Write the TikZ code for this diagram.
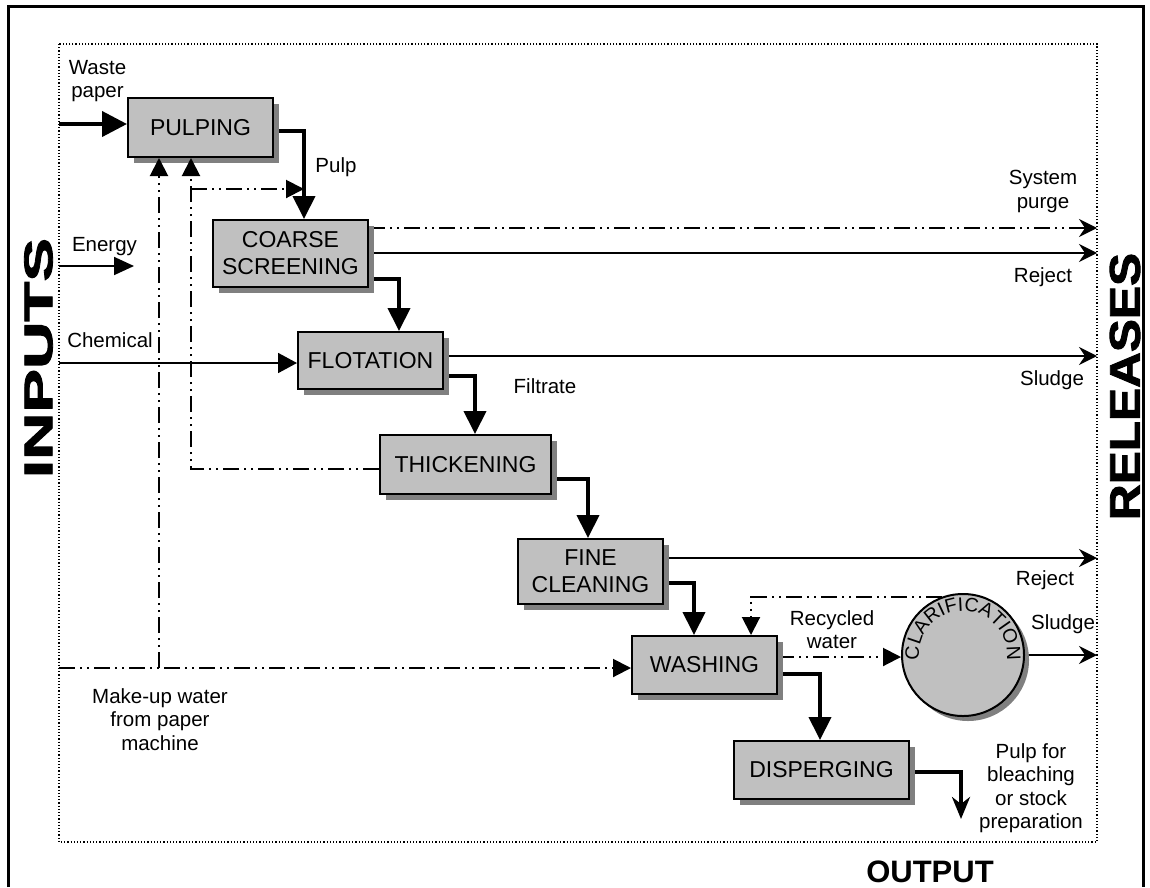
\documentclass[tikz,border=0pt]{standalone}
\usepackage{fontspec}
\usepackage{graphicx}
\setmainfont{Liberation Sans}
\newfontfamily\heavyfont[FakeBold=2]{Liberation Sans Bold}
\usetikzlibrary{arrows.meta,shadows,decorations.text,calc,backgrounds}
\definecolor{boxgray}{HTML}{C0C0C0}
\definecolor{shadowgray}{HTML}{808080}
\begin{document}
\begin{tikzpicture}[x=1pt,y=-1pt,
  procbox/.style={draw=black, line width=2pt, fill=boxgray, inner sep=0pt, align=center,
    font=\fontsize{23}{27}\selectfont,
    drop shadow={shadow xshift=6pt, shadow yshift=-6pt, opacity=1, fill=shadowgray}},
  lbl/.style={inner sep=0pt, anchor=north, align=center, font=\fontsize{20.5}{23.5}\selectfont},
  flow/.style={line width=4pt, -{Triangle[length=23pt,width=22pt]}},
  thinline/.style={line width=1.8pt},
  dd/.style={line width=2pt, dash pattern=on 16pt off 5pt on 2pt off 5pt on 2pt off 5pt},
  tri/.style={-{Triangle[length=18pt,width=18pt]}},
  rel/.style={line width=1.8pt, -{Stealth[length=18pt,width=18pt,inset=6pt]}},
]
\useasboundingbox (0,0) rectangle (1150,887);

% frames
\draw[line width=3pt] (8,887) -- (8,6) -- (1143,6) -- (1143,887);
\draw[dotted, line width=1.2pt] (59,44) rectangle (1097,842);

% big side titles
\node[rotate=90, inner sep=0pt] (inputs) at (38.5,358) {\resizebox{240pt}{28pt}{\heavyfont INPUTS}};
\node[rotate=90, inner sep=0pt] (releases) at (1125,386.5) {\resizebox{267pt}{30pt}{\heavyfont RELEASES}};
\node[inner sep=0pt, anchor=base, font=\fontsize{31}{31}\selectfont\bfseries] (output) at (930,882) {OUTPUT};

% process boxes
\node[procbox, minimum width=145pt, minimum height=59pt] (pulping) at (200.5,127.5) {PULPING};
\node[procbox, minimum width=155pt, minimum height=67pt] (coarse) at (290.5,253.5) {COARSE\\SCREENING};
\node[procbox, minimum width=145pt, minimum height=57pt] (flot) at (370.5,360.5) {FLOTATION};
\node[procbox, minimum width=171pt, minimum height=59pt] (thick) at (465.5,464.5) {THICKENING};
\node[procbox, minimum width=145pt, minimum height=65pt] (fine) at (590.5,571.5) {FINE\\CLEANING};
\node[procbox, minimum width=145pt, minimum height=58pt] (wash) at (704.5,665) {WASHING};
\node[procbox, minimum width=175pt, minimum height=58pt] (disp) at (821.5,770) {DISPERGING};
\node[circle, draw=black, line width=2pt, fill=boxgray, minimum size=122pt, inner sep=0pt,
  drop shadow={shadow xshift=5pt, shadow yshift=-5pt, opacity=1, fill=shadowgray}] (clar) at (963,655) {};
\path[decorate, decoration={text along path, text align=center,
  text={|\fontsize{19.5}{19.5}\selectfont|CLARIFICATION}}]
  ([shift={(192:44pt)}]clar.center) arc[start angle=192, end angle=-12, radius=44pt];

% coordinates
\coordinate (wpin) at (59,124);
\coordinate (k1) at (304,131);
\coordinate (k2) at (399,279);
\coordinate (k3) at (475,376);
\coordinate (k4) at (588,479);
\coordinate (k5) at (694,583);
\coordinate (k6) at (820,674);
\coordinate (k7) at (961,772);
\coordinate (outend) at (961,819);
\coordinate (r1) at (1097,228);
\coordinate (r2) at (1097,253);
\coordinate (r3) at (1097,356);
\coordinate (r4) at (1097,558);
\coordinate (r5) at (1097,656);
\coordinate (en) at (59,266);
\coordinate (enend) at (134,266);
\coordinate (ch) at (59,363);
\coordinate (mu) at (59,668);
\coordinate (mu2) at (159,668);
\coordinate (t1) at (191,469);
\coordinate (t2) at (191,189);
\coordinate (t3) at (304,189);
\coordinate (w1) at (777,657);
\coordinate (c1) at (751,597);

\begin{pgfonlayer}{background}
\draw[flow] (k1 -| pulping.east) -- (k1) -- (k1 |- coarse.north);
\draw[flow] (k2 -| coarse.east) -- (k2) -- (k2 |- flot.north);
\draw[flow] (k3 -| flot.east) -- (k3) -- (k3 |- thick.north);
\draw[flow] (k4 -| thick.east) -- (k4) -- (k4 |- fine.north);
\draw[flow] (k5 -| fine.east) -- (k5) -- (k5 |- wash.north);
\draw[flow] (k6 -| wash.east) -- (k6) -- (k6 |- disp.north);
\draw[line width=4pt, -{Stealth[length=22pt,width=18pt,inset=7pt]}] (k7 -| disp.east) -- (k7) -- (outend);
\draw[rel, dash pattern=on 16pt off 5pt on 2pt off 5pt on 2pt off 5pt] (r1 -| coarse.east) -- (r1);
\draw[rel] (r2 -| coarse.east) -- (r2);
\draw[rel] (r3 -| flot.east) -- (r3);
\draw[rel] (r4 -| fine.east) -- (r4);
\draw[rel] (clar.east) -- (clar.east -| r5);
\draw[dd, tri] (w1 -| wash.east) -- (w1 -| clar.west);
\end{pgfonlayer}

% inputs
\draw[line width=4pt, -{Triangle[length=25pt,width=25pt]}] (wpin) -- (wpin -| pulping.west);
\draw[thinline, -{Triangle[length=20pt,width=18pt]}] (en) -- (enend);
\draw[thinline, -{Triangle[length=19pt,width=20pt]}] (ch) -- (ch -| flot.west);
\draw[dd, tri] (mu) -- (mu -| wash.west);
\draw[dd, tri] (mu2) -- (mu2 |- pulping.south);
\draw[dd, tri] (t1 -| thick.west) -- (t1) -- (t1 |- pulping.south);
\draw[dd, tri] (t2) -- (t3);
\draw[dd, tri] (clar.110) -- (clar.110 -| c1) -- (c1 |- wash.north);

% labels
\node[lbl] (lwaste) at (97.5,60) {Waste\\paper};
\node[lbl] (lenergy) at (104.5,237) {Energy};
\node[lbl] (lchem) at (110,332) {Chemical};
\node[lbl] (lpulp) at (336,157) {Pulp};
\node[lbl] (lfilt) at (545,378) {Filtrate};
\node[lbl] (lpurge) at (1043,170) {System\\purge};
\node[lbl] (lrej1) at (1043,267) {Reject};
\node[lbl] (lsl1) at (1052,370) {Sludge};
\node[lbl] (lrej2) at (1045,570) {Reject};
\node[lbl] (lsl2) at (1063,614) {Sludge};
\node[lbl] (lrec) at (832,610) {Recycled\\water};
\node[lbl] (lout) at (1031,743) {Pulp for\\bleaching\\or stock\\preparation};
\node[lbl] (lmake) at (160,688) {Make-up water\\from paper\\machine};
\end{tikzpicture}
\end{document}
